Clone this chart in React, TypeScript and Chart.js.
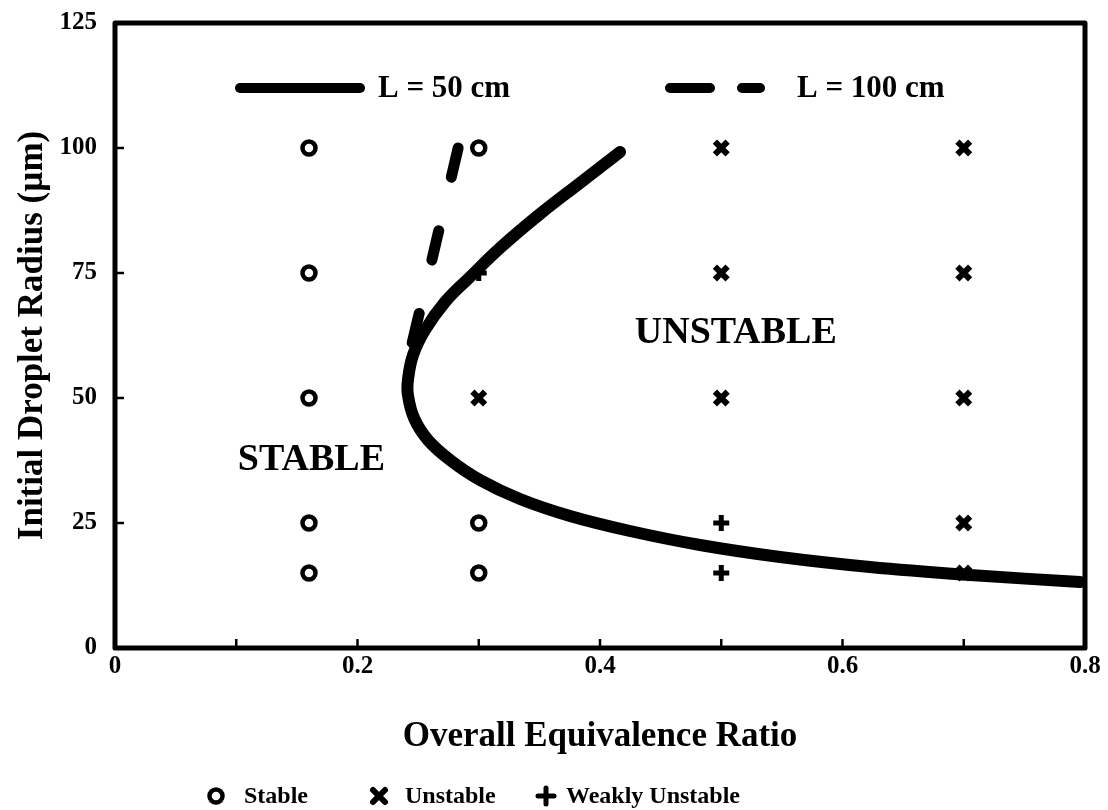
import React, { useEffect, useRef } from 'react';
import { Chart, registerables } from 'chart.js';

Chart.register(...registerables);

// ---- data ----
const yTickValues = [0, 25, 50, 75, 100, 125];
const xLabelledTicks = [0, 0.2, 0.4, 0.6, 0.8];

const stableX = [0.16, 0.16, 0.16, 0.16, 0.16, 0.3, 0.3, 0.3];
const stableY = [100, 75, 50, 25, 15, 100, 25, 15];

const unstableX = [0.3, 0.5, 0.5, 0.5, 0.7, 0.7, 0.7, 0.7, 0.7];
const unstableY = [50, 100, 75, 50, 100, 75, 50, 25, 15];

const weakX = [0.3, 0.5, 0.5];
const weakY = [75, 25, 15];

const curve50X = [0.4165, 0.3835, 0.3505, 0.3175, 0.2928, 0.2722, 0.2557, 0.2458, 0.2416, 0.2416, 0.2466, 0.2581, 0.2763, 0.301, 0.334, 0.3753, 0.4247, 0.4825, 0.5485, 0.6227, 0.7052, 0.7959];
const curve50Y = [99.2, 93, 86.8, 80, 74.2, 69.2, 63.6, 58.6, 53.6, 50.6, 46, 41.6, 37.6, 33.6, 29.8, 26.4, 23.4, 20.6, 18.2, 16.2, 14.6, 13.2];

const curve100X = [0.283, 0.259, 0.2417];
const curve100Y = [100, 75.2, 57.6];

const lineLabels = ['L = 50 cm', 'L = 100 cm'];
const markerLabels = ['Stable', 'Unstable', 'Weakly Unstable'];
const regionLabels = ['UNSTABLE', 'STABLE'];
const xTitle = 'Overall Equivalence Ratio';
const yTitle = 'Initial Droplet Radius (\u00b5m)';

const FONT = "'Liberation Serif', 'DejaVu Serif', serif";

const zip = (xs: number[], ys: number[]) => xs.map((x, i) => ({ x, y: ys[i] }));

function drawMarker(ctx: CanvasRenderingContext2D, kind: string, x: number, y: number) {
  ctx.save();
  ctx.strokeStyle = '#000';
  ctx.fillStyle = '#fff';
  ctx.lineCap = 'round';
  if (kind === 'circle') {
    ctx.lineWidth = 4.5;
    ctx.beginPath();
    ctx.arc(x, y, 6.5, 0, Math.PI * 2);
    ctx.fill();
    ctx.stroke();
  } else if (kind === 'x') {
    ctx.lineWidth = 6;
    ctx.beginPath();
    ctx.moveTo(x - 6, y - 6);
    ctx.lineTo(x + 6, y + 6);
    ctx.moveTo(x + 6, y - 6);
    ctx.lineTo(x - 6, y + 6);
    ctx.stroke();
  } else {
    ctx.lineWidth = 5;
    ctx.beginPath();
    ctx.moveTo(x - 8, y);
    ctx.lineTo(x + 8, y);
    ctx.moveTo(x, y - 8);
    ctx.lineTo(x, y + 8);
    ctx.stroke();
  }
  ctx.restore();
}

const framePlugin = {
  id: 'framePlugin',
  beforeDatasetsDraw(chart: any) {
    const { ctx, chartArea } = chart;
    const { left, right, top, bottom } = chartArea;
    const xs = chart.scales.x;
    const ys = chart.scales.y;
    ctx.save();
    ctx.strokeStyle = '#000';
    ctx.lineWidth = 5;
    ctx.lineJoin = 'round';
    ctx.strokeRect(left, top, right - left, bottom - top);
    ctx.lineWidth = 2.5;
    ctx.beginPath();
    for (let i = 1; i < 8; i++) {
      const px = xs.getPixelForValue(i / 10);
      ctx.moveTo(px, bottom);
      ctx.lineTo(px, bottom - 9);
    }
    for (const v of yTickValues) {
      if (v === 0 || v === 125) continue;
      const py = ys.getPixelForValue(v);
      ctx.moveTo(left, py);
      ctx.lineTo(left + 9, py);
    }
    ctx.stroke();
    ctx.restore();
  },
  afterDraw(chart: any) {
    const { ctx, chartArea } = chart;
    const xs = chart.scales.x;
    const ys = chart.scales.y;
    ctx.save();
    ctx.fillStyle = '#000';
    ctx.textBaseline = 'middle';
    ctx.textAlign = 'left';

    // in-plot line legend
    const ly = chartArea.top + 65;
    ctx.strokeStyle = '#000';
    ctx.lineCap = 'round';
    ctx.lineWidth = 10;
    ctx.beginPath();
    ctx.moveTo(chartArea.left + 125, ly);
    ctx.lineTo(chartArea.left + 245, ly);
    ctx.stroke();
    ctx.beginPath();
    ctx.moveTo(chartArea.left + 555, ly);
    ctx.lineTo(chartArea.left + 595, ly);
    ctx.moveTo(chartArea.left + 627, ly);
    ctx.lineTo(chartArea.left + 645, ly);
    ctx.stroke();
    ctx.font = `bold 31px ${FONT}`;
    ctx.fillText(lineLabels[0], chartArea.left + 263, ly + 1);
    ctx.fillText(lineLabels[1], chartArea.left + 682, ly + 1);

    // region labels
    ctx.font = `bold 38px ${FONT}`;
    ctx.textAlign = 'center';
    ctx.fillText(regionLabels[0], xs.getPixelForValue(0.512), ys.getPixelForValue(63));
    ctx.fillText(regionLabels[1], xs.getPixelForValue(0.162), ys.getPixelForValue(37.6));

    // bottom legend
    const by = 796;
    ctx.font = `bold 24px ${FONT}`;
    ctx.textAlign = 'left';
    const kinds = ['circle', 'x', 'plus'];
    const mx = [216, 379, 546];
    const tx = [244, 405, 566];
    kinds.forEach((k, i) => {
      drawMarker(ctx, k, mx[i], by);
      ctx.fillText(markerLabels[i], tx[i], by + 1);
    });
    ctx.restore();
  },
};

export default function App() {
  const ref = useRef<HTMLCanvasElement | null>(null);

  useEffect(() => {
    if (!ref.current) return;
    const chart = new Chart(ref.current, {
      type: 'scatter',
      data: {
        datasets: [
          {
            label: lineLabels[0],
            data: zip(curve50X, curve50Y),
            showLine: true,
            borderColor: '#000',
            borderWidth: 12,
            pointRadius: 0,
            tension: 0.4,
            borderCapStyle: 'round',
            borderJoinStyle: 'round',
            order: 0,
          },
          {
            label: lineLabels[1],
            data: zip(curve100X, curve100Y),
            showLine: true,
            borderColor: '#000',
            borderWidth: 11,
            borderDash: [30, 55],
            borderCapStyle: 'round',
            pointRadius: 0,
            tension: 0,
            order: 0,
          },
          {
            label: markerLabels[0],
            data: zip(stableX, stableY),
            pointStyle: 'circle',
            pointRadius: 6.5,
            borderWidth: 4.5,
            borderColor: '#000',
            backgroundColor: '#fff',
            order: 2,
          },
          {
            label: markerLabels[1],
            data: zip(unstableX, unstableY),
            pointStyle: 'crossRot',
            pointRadius: 9,
            borderWidth: 6,
            borderColor: '#000',
            backgroundColor: '#000',
            order: 2,
          },
          {
            label: markerLabels[2],
            data: zip(weakX, weakY),
            pointStyle: 'cross',
            pointRadius: 8,
            borderWidth: 5,
            borderColor: '#000',
            backgroundColor: '#000',
            order: 2,
          },
        ],
      },
      options: {
        responsive: false,
        animation: false,
        events: [],
        layout: { padding: { left: 0, right: 23, top: 23, bottom: 0 } },
        plugins: { legend: { display: false }, tooltip: { enabled: false } },
        scales: {
          x: {
            type: 'linear',
            min: 0,
            max: 0.8,
            grid: { display: false, drawTicks: false },
            border: { display: false },
            afterFit: (s: any) => {
              s.height = 162;
              s.paddingLeft = 0;
              s.paddingRight = 0;
            },
            ticks: {
              stepSize: 0.1,
              autoSkip: false,
              maxRotation: 0,
              padding: 4,
              color: '#000',
              font: { family: FONT, size: 25, weight: 'bold' },
              callback: (v: any) => {
                const r = Math.round(Number(v) * 10) / 10;
                return xLabelledTicks.some((t) => Math.abs(t - r) < 1e-6) ? String(r) : '';
              },
            },
            title: {
              display: true,
              text: xTitle,
              color: '#000',
              font: { family: FONT, size: 35, weight: 'bold' },
              padding: { top: 0, bottom: 52 },
            },
          },
          y: {
            type: 'linear',
            min: 0,
            max: 125,
            grid: { display: false, drawTicks: false },
            border: { display: false },
            afterFit: (s: any) => {
              s.width = 115;
              s.paddingTop = 0;
              s.paddingBottom = 0;
            },
            ticks: {
              stepSize: 25,
              padding: 18,
              color: '#000',
              font: { family: FONT, size: 25, weight: 'bold' },
            },
            title: {
              display: true,
              text: yTitle,
              color: '#000',
              font: { family: FONT, size: 35, weight: 'bold' },
              padding: { top: 12, bottom: 0 },
            },
          },
        },
      },
      plugins: [framePlugin],
    } as any);
    return () => chart.destroy();
  }, []);

  return (
    <div style={{ position: 'absolute', left: 0, top: 0, width: 1108, height: 810, background: '#fff' }}>
      <canvas ref={ref} width={1108} height={810} style={{ display: 'block' }} />
    </div>
  );
}
